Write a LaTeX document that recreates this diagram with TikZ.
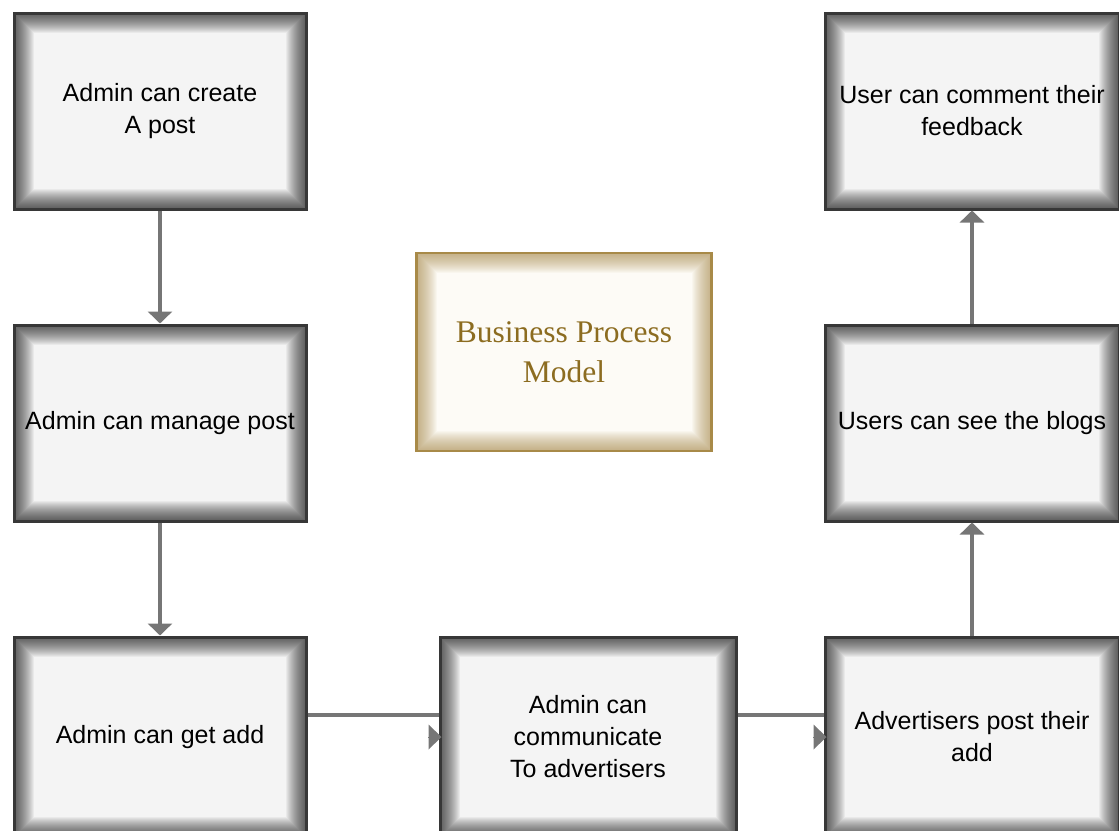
\documentclass[tikz,border=0pt]{standalone}
\usepackage{fontspec}
\setmainfont{Liberation Sans}
\newfontfamily\titlefont{Liberation Serif}
\usetikzlibrary{arrows.meta}
\definecolor{boxfill}{RGB}{244,244,244}
\definecolor{boxedge}{RGB}{55,55,55}
\definecolor{arrowgray}{RGB}{118,118,118}
\definecolor{goldedge}{RGB}{168,138,72}
\definecolor{goldtext}{RGB}{140,108,32}
\definecolor{creamfill}{RGB}{253,251,246}

\begin{document}
\begin{tikzpicture}[x=1pt, y=-1pt,
	glow/.style={path picture={\foreach \w in {2,4,...,40}
		{\draw[#1, opacity=0.045, line width=\w pt] (path picture bounding box.south west) rectangle (path picture bounding box.north east);}}},
	procbox/.style={draw=boxedge, line width=3pt, fill=boxfill, glow=black, minimum width=292pt, minimum height=196pt, inner sep=0pt, align=center, font=\fontsize{25}{32}\selectfont},
	titlebox/.style={draw=goldedge, line width=2.5pt, fill=creamfill, glow=goldedge, minimum width=295pt, minimum height=198pt, inner sep=0pt, align=center, text=goldtext, font=\titlefont\fontsize{31.5}{40}\selectfont},
	flow/.style={draw=arrowgray, line width=3.5pt, -{Triangle[length=12pt,width=24pt]}},
	flowline/.style={draw=arrowgray, line width=3.5pt},
	flowtip/.style={draw=arrowgray, fill=arrowgray, line width=0pt, -{Triangle[length=13pt,width=25pt]}}]
		\useasboundingbox (0,0) rectangle (1119,830);

		\path (160,111) node[procbox] (create) {Admin can create\\A post}
		(160,423) node[procbox] (manage) {Admin can manage post}
		(160,737) node[procbox, minimum height=200pt] (getadd) {Admin can get add}
		(588,737) node[procbox, minimum width=296pt, minimum height=200pt] (talk) {Admin can\\communicate\\To advertisers}
		(972,737) node[procbox, minimum width=294pt, minimum height=200pt] (advpost) {Advertisers post their\\add}
		(972,423) node[procbox, minimum width=294pt] (seeblogs) {Users can see the blogs}
		(972,111) node[procbox, minimum width=294pt] (comment) {User can comment their\\feedback}
		(564,352) node[titlebox] (model) {Business Process\\Model};

		\draw[flow] (create) -- (manage);
		\draw[flow] (manage) -- (getadd);
		\draw[flow] (advpost) -- (seeblogs);
		\draw[flow] (seeblogs) -- (comment);

		\draw[flowline] ([yshift=22pt]getadd.east) -- ([yshift=22pt]talk.west);
		\draw[flowtip] ([xshift=-10pt]talk.west) -- ([xshift=3pt]talk.west);
		\draw[flowline] ([yshift=22pt]talk.east) -- ([yshift=22pt]advpost.west);
		\draw[flowtip] ([xshift=-10pt]advpost.west) -- ([xshift=3pt]advpost.west);
	\end{tikzpicture}
\end{document}
